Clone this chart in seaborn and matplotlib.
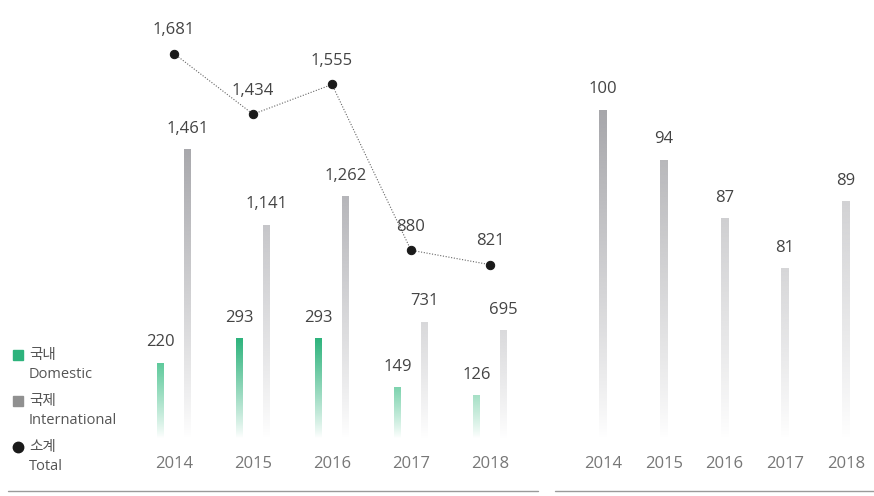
import numpy as np
import pandas as pd
import matplotlib
matplotlib.use("Agg")
import matplotlib.pyplot as plt
import matplotlib.colors as mcolors
from matplotlib.lines import Line2D
import seaborn as sns

# ---- data ----
years = ["2014", "2015", "2016", "2017", "2018"]
domestic = [220, 293, 293, 149, 126]
international = [1461, 1141, 1262, 731, 695]
total = [1681, 1434, 1555, 880, 821]
right_values = [100, 94, 87, 81, 89]

dom_colors = ["#5cc99a", "#2db37c", "#2db37c", "#7dd3ae", "#a6e0c6"]
int_colors = ["#a8a8ac", "#c6c6c9", "#b6b6ba", "#d8d8da", "#dadadc"]
right_colors = ["#a6a6aa", "#b8b8bb", "#cfcfd1", "#d6d6d8", "#d2d2d4"]

sns.set_theme(style="white")
plt.rcParams["font.family"] = ["Open Sans", "Noto Sans CJK KR", "DejaVu Sans"]

W, H = 874, 496
fig = plt.figure(figsize=(W / 100, H / 100), dpi=100)

def rect(l, r, top, bottom):
    return [l / W, 1 - bottom / H, (r - l) / W, (bottom - top) / H]

left_rect = rect(134.5, 529.5, 0, 438)
ax = fig.add_axes(left_rect)
ax2 = fig.add_axes(left_rect, sharex=ax)
ax3 = fig.add_axes(left_rect, sharex=ax)
for a in (ax2, ax3):
    a.patch.set_alpha(0)

df_dom = pd.DataFrame({"year": years, "value": domestic, "series": "국내"})
df_int = pd.DataFrame({"year": years, "value": international, "series": "국제"})
hue_order = ["국내", "국제"]

sns.barplot(data=df_dom, x="year", y="value", hue="series", hue_order=hue_order,
            dodge=True, width=0.68, gap=0.74, legend=False, ax=ax, order=years)
sns.barplot(data=df_int, x="year", y="value", hue="series", hue_order=hue_order,
            dodge=True, width=0.68, gap=0.74, legend=False, ax=ax2, order=years)
sns.lineplot(x=np.arange(len(years)), y=total, ax=ax3, color="#666666",
             linestyle=(0, (1, 1.5)), linewidth=0.8, marker="o", markersize=6,
             markerfacecolor="#1a1a1a", markeredgecolor="#1a1a1a")

# right panel
right_rect = rect(572.65, 876.15, 0, 438)
axr = fig.add_axes(right_rect)
df_r = pd.DataFrame({"year": years, "value": right_values})
sns.barplot(data=df_r, x="year", y="value", ax=axr, width=0.125, order=years,
            color="#aaaaaa")

ax.set_ylim(0, 438 / 0.341)
ax2.set_ylim(238, 238 + 438 / 0.2363)
ax3.set_ylim(115, 115 + 438 / 0.2455)
axr.set_ylim(60.7, 60.7 + 438 / 8.357)


def gradientize(a, colors, values, label=True):
    patches = sorted([p for p in a.patches if p.get_height() > 0],
                     key=lambda p: p.get_x())
    ylo = a.get_ylim()[0]
    for p, c, v in zip(patches, colors, values):
        x0 = p.get_x()
        x1 = x0 + p.get_width()
        y0 = max(0, ylo)
        y1 = p.get_height()
        rgb = mcolors.to_rgb(c)
        n = 256
        img = np.zeros((n, 1, 4))
        img[:, 0, :3] = rgb
        img[:, 0, 3] = np.linspace(1, 0.0, n) ** 0.9
        im = a.imshow(img, extent=[x0, x1, y0, y1], aspect="auto",
                      origin="upper", zorder=2, interpolation="bilinear")
        im.set_clip_path(p)
        p.set_facecolor("none")
        p.set_edgecolor("none")
        if label:
            a.annotate(f"{v:,}", xy=(x0 + (x1 - x0) / 2, y1), xytext=(0, 9),
                       textcoords="offset points", ha="center", va="bottom",
                       fontsize=12, color="#444444")


gradientize(ax, dom_colors, domestic)
gradientize(ax2, int_colors, international)
gradientize(axr, right_colors, right_values)

for i, v in enumerate(total):
    ax3.annotate(f"{v:,}", xy=(i, v), xytext=(0, 11), textcoords="offset points",
                 ha="center", va="bottom", fontsize=12, color="#444444")

ax.set_xlim(-0.5, 4.5)
axr.set_xlim(-0.5, 4.5)
ax.set_ylim(0, 438 / 0.341)
ax2.set_ylim(238, 238 + 438 / 0.2363)
ax3.set_ylim(115, 115 + 438 / 0.2455)
axr.set_ylim(60.7, 60.7 + 438 / 8.357)

for a in (ax, ax2, ax3, axr):
    a.set_xlabel("")
    a.set_ylabel("")
    a.set_yticks([])
    for s in a.spines.values():
        s.set_visible(False)
    a.tick_params(axis="x", length=0, pad=13, labelsize=12, labelcolor="#777777")
for a in (ax2, ax3):
    a.tick_params(axis="x", labelbottom=False)
ax.set_xticks(range(len(years)))
ax.set_xticklabels(years)
axr.set_xticks(range(len(years)))
axr.set_xticklabels(years)

# baselines
fig.add_artist(Line2D([8 / W, 538 / W], [1 - 491 / H] * 2, color="#9a9a9a", lw=1))
fig.add_artist(Line2D([555 / W, 874 / W], [1 - 491 / H] * 2, color="#9a9a9a", lw=1))

# legend
leg = [("s", "#2db37c", "국내", "Domestic", 355),
       ("s", "#909090", "국제", "International", 401),
       ("o", "#1a1a1a", "소계", "Total", 447)]
for m, c, ko, en, y in leg:
    fig.add_artist(Line2D([18 / W], [1 - y / H], marker=m, markersize=7.5,
                          color=c, markeredgecolor=c, linestyle="none"))
    fig.text(29 / W, 1 - y / H, ko, fontsize=10.5, color="#555555", va="center",
             family=["Noto Sans CJK KR", "DejaVu Sans"])
    fig.text(29 / W, 1 - (y + 20) / H, en, fontsize=10.5, color="#555555", va="center")

fig.savefig("out.png", dpi=100)
